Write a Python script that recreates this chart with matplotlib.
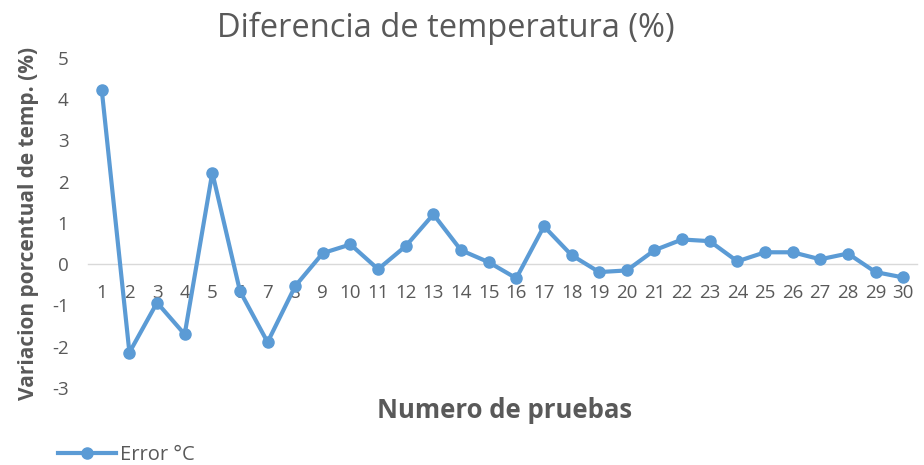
import matplotlib
matplotlib.use("Agg")
import matplotlib.pyplot as plt
from matplotlib.lines import Line2D

# Percentage error per test run
pruebas = list(range(1, 31))
error_pct = [4.22, -2.14, -0.93, -1.70, 2.22, -0.65, -1.89, -0.53, 0.27, 0.48,
             -0.12, 0.44, 1.21, 0.34, 0.05, -0.34, 0.92, 0.22, -0.19, -0.15,
             0.34, 0.60, 0.56, 0.07, 0.29, 0.29, 0.12, 0.26, -0.19, -0.32]
y_ticks = [-3, -2, -1, 0, 1, 2, 3, 4, 5]

BLUE = "#5B9BD5"
GREY = "#595959"
plt.rcParams["font.family"] = ["Open Sans", "DejaVu Sans"]
plt.rcParams["axes.unicode_minus"] = False

fig = plt.figure(figsize=(9.24, 4.65), dpi=100)
ax = fig.add_axes([0.0952, 0.1656, 0.8972, 0.7097])

ax.plot(pruebas, error_pct, color=BLUE, lw=3.0, marker="o", ms=8,
        solid_joinstyle="round", zorder=3)

ax.set_xlim(0.5, 30.5)
ax.set_ylim(-3, 5)
ax.set_yticks(y_ticks)
ax.set_xticks(pruebas)
ax.tick_params(axis="both", length=0, labelsize=13.5, colors=GREY)
ax.tick_params(axis="y", pad=14)
ax.tick_params(axis="x", pad=14)

for side in ("top", "right", "left"):
    ax.spines[side].set_visible(False)
ax.spines["bottom"].set_position(("data", 0))
ax.spines["bottom"].set_color("#d9d9d9")
ax.spines["bottom"].set_linewidth(1.0)

# title is centred on the chart area, not on the plot axes
fig.text(0.482, 0.938, "Diferencia de temperatura (%)", fontsize=23.5,
         color=GREY, ha="center", va="center")
ax.set_ylabel("Variacion porcentual de temp. (%)", fontsize=15, color=GREY,
              fontweight="bold", labelpad=9)
fig.text(0.546, 0.118, "Numero de pruebas", fontsize=18.5, color=GREY,
         fontweight="bold", ha="center", va="center")

handle = Line2D([], [], color=BLUE, lw=3.0, marker="o", ms=8)
fig.legend([handle], ["Error °C"], loc="center left",
           bbox_to_anchor=(0.063, 0.022), frameon=False, fontsize=14.5,
           labelcolor=GREY, handlelength=2.85, handletextpad=0.2,
           borderpad=0, borderaxespad=0)

fig.savefig("out.png", dpi=100)
